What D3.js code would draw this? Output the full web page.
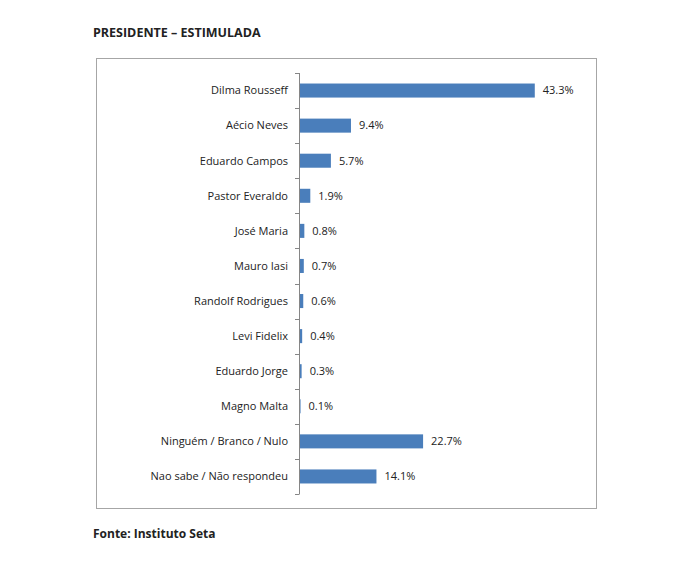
<!DOCTYPE html>
<html>
<head>
<meta charset="utf-8">
<script src="https://cdn.jsdelivr.net/npm/d3@7"></script>
<style>
  body { margin: 0; background: #fff; }
  svg text { font-family: "Open Sans", "Liberation Sans", sans-serif; fill: #222; }
</style>
</head>
<body>
<svg width="700" height="566"></svg>
<script>
// candidates and % of votes
const candidates = [
  "Dilma Rousseff", "Aécio Neves", "Eduardo Campos", "Pastor Everaldo",
  "José Maria", "Mauro Iasi", "Randolf Rodrigues", "Levi Fidelix",
  "Eduardo Jorge", "Magno Malta", "Ninguém / Branco / Nulo", "Nao sabe / Não respondeu"
];
const values = [43.3, 9.4, 5.7, 1.9, 0.8, 0.7, 0.6, 0.4, 0.3, 0.1, 22.7, 14.1];

const svg = d3.select("svg");

// title and source
svg.append("text")
  .attr("x", 93).attr("y", 37)
  .style("font-size", "12.5px").style("font-weight", "bold")
  .text("PRESIDENTE – ESTIMULADA");

svg.append("text")
  .attr("x", 93).attr("y", 538)
  .style("font-size", "12px").style("font-weight", "bold")
  .text("Fonte: Instituto Seta");

// chart frame
svg.append("rect")
  .attr("x", 96.5).attr("y", 58.5)
  .attr("width", 500).attr("height", 450)
  .attr("fill", "#fff")
  .attr("stroke", "#a6a6a6");

const margin = { left: 300, top: 73 },
  width = 244,
  height = 421;

const g = svg.append("g")
  .attr("transform", "translate(" + margin.left + "," + margin.top + ")");

const x = d3.scaleLinear().domain([0, 45]).range([0, width]);
const y = d3.scaleBand().domain(candidates).range([0, height]).paddingInner(0.6).paddingOuter(0.3);

// bars
g.selectAll(".bar")
  .data(candidates)
  .enter()
  .append("rect")
  .attr("class", "bar")
  .attr("x", 0)
  .attr("y", (d) => y(d))
  .attr("width", (d, i) => x(values[i]))
  .attr("height", y.bandwidth())
  .attr("fill", "#4a7ebb");

// value labels
g.selectAll(".val")
  .data(candidates)
  .enter()
  .append("text")
  .attr("class", "val")
  .attr("x", (d, i) => x(values[i]) + 8)
  .attr("y", (d) => y(d) + y.bandwidth() / 2)
  .attr("dy", "0.35em")
  .style("font-size", "11px")
  .text((d, i) => values[i].toFixed(1) + "%");

// category axis with ticks between bands
const step = height / candidates.length;
const axis = g.append("g").attr("class", "axis");
axis.append("line")
  .attr("x1", -0.5).attr("x2", -0.5)
  .attr("y1", 0).attr("y2", height)
  .attr("stroke", "#868686");
axis.selectAll(".tick")
  .data(d3.range(candidates.length + 1))
  .enter()
  .append("line")
  .attr("x1", -5).attr("x2", -0.5)
  .attr("y1", (d) => Math.round(d * step) + 0.5)
  .attr("y2", (d) => Math.round(d * step) + 0.5)
  .attr("stroke", "#868686");
axis.selectAll(".lab")
  .data(candidates)
  .enter()
  .append("text")
  .attr("x", -12)
  .attr("y", (d) => y(d) + y.bandwidth() / 2)
  .attr("dy", "0.35em")
  .attr("text-anchor", "end")
  .style("font-size", "11px")
  .text((d) => d);
</script>
</body>
</html>
